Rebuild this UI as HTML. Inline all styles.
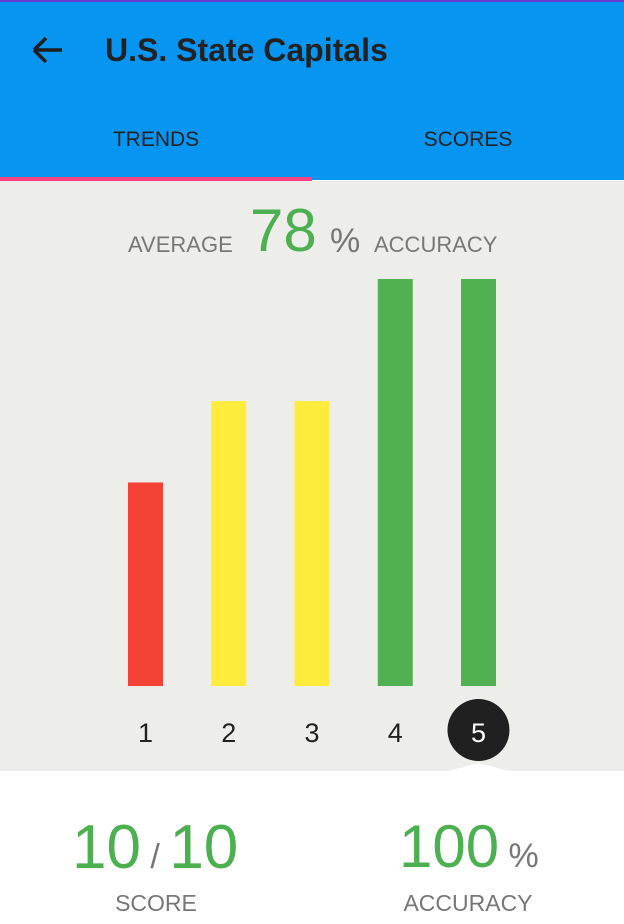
<!DOCTYPE html>
<html><head><meta charset="utf-8"><style>
body{margin:0;width:624px;height:924px;overflow:hidden;font-family:"Liberation Sans",sans-serif;background:#fff;position:relative}
.a{position:absolute}
</style></head><body>
<div class="a" style="left:0;top:0;width:624px;height:180px;background:#0795f2;border-top:2px solid #6a3bd0;box-sizing:border-box"></div>
<div class="a" style="left:30px;top:30px;width:36px;height:40px">
<svg width="36" height="40"><path d="M4 20H32M4 20L16 8M4 20L16 32" stroke="#1f1f1f" stroke-width="3.5" fill="none"/></svg></div>
<div class="a" style="left:105px;top:32px;font-size:32px;font-weight:bold;color:#222">U.S. State Capitals</div>
<div class="a" style="left:0;top:128px;width:312px;text-align:center;font-size:21px;color:#222">TRENDS</div>
<div class="a" style="left:312px;top:128px;width:312px;text-align:center;font-size:21px;color:#222">SCORES</div>
<div class="a" style="left:0;top:177px;width:312px;height:4px;background:#fc3f83"></div>
<div class="a" style="left:0;top:181px;width:624px;height:590px;background:#edeeea"></div>
<div class="a" style="left:128px;top:232px;font-size:22px;color:#777">AVERAGE</div>
<div class="a" style="left:250px;top:196px;font-size:60px;color:#4caf50">78</div>
<div class="a" style="left:330px;top:222px;font-size:34px;color:#777">%</div>
<div class="a" style="left:374px;top:232px;font-size:22px;color:#777">ACCURACY</div>
<svg class="a" id="chart" style="left:0;top:181px" width="624" height="600"></svg>
<div class="a" style="left:72px;top:812px;font-size:62px;color:#4caf50">10<span style="font-size:34px;color:#777"> / </span>10</div>
<div class="a" style="left:0;top:890px;width:312px;text-align:center;font-size:23px;color:#777">SCORE</div>
<div class="a" style="left:399px;top:812px;font-size:60px;color:#4caf50">100<span style="font-size:34px;color:#777"> %</span></div>
<div class="a" style="left:312px;top:890px;width:312px;text-align:center;font-size:23px;color:#777">ACCURACY</div>
<script>
const categories=["1","2","3","4","5"];
const values=[50,70,70,100,100];
const selected=4;
const svg=document.getElementById('chart');
const NS='http://www.w3.org/2000/svg';
const base=505, top0=98;
function y(v){return base-(base-top0)*v/100;}
function xc(i){return 145.5+i*83.25;}
function color(v){return v>=90?'#51b052':v>=60?'#ffeb3b':'#f44336';}
values.forEach((v,i)=>{
 const r=document.createElementNS(NS,'rect');
 r.setAttribute('x',xc(i)-17.5);r.setAttribute('y',y(v));
 r.setAttribute('width',35);r.setAttribute('height',base-y(v));
 r.setAttribute('fill',color(v));
 
 
 svg.appendChild(r);
 if(i===selected){
  const c=document.createElementNS(NS,'circle');
  c.setAttribute('cx',xc(i));c.setAttribute('cy',549);c.setAttribute('r',31);c.setAttribute('fill','#202020');
  
  
  svg.appendChild(c);
  const p=document.createElementNS(NS,'path');
  p.setAttribute('d',`M${xc(i)-30} 590 L${xc(i)} 582 L${xc(i)+30} 590Z`);p.setAttribute('fill','#fff');
  
  
  svg.appendChild(p);
 }
 const t=document.createElementNS(NS,'text');
 t.setAttribute('x',xc(i));t.setAttribute('y',561);t.setAttribute('text-anchor','middle');
 t.setAttribute('font-size','27');t.setAttribute('fill',i===selected?'#fff':'#222');
 t.setAttribute('font-family','Liberation Sans Narrow, Liberation Sans, sans-serif');
 t.textContent=categories[i];
 
 
 svg.appendChild(t);
});
</script>
</body></html>
